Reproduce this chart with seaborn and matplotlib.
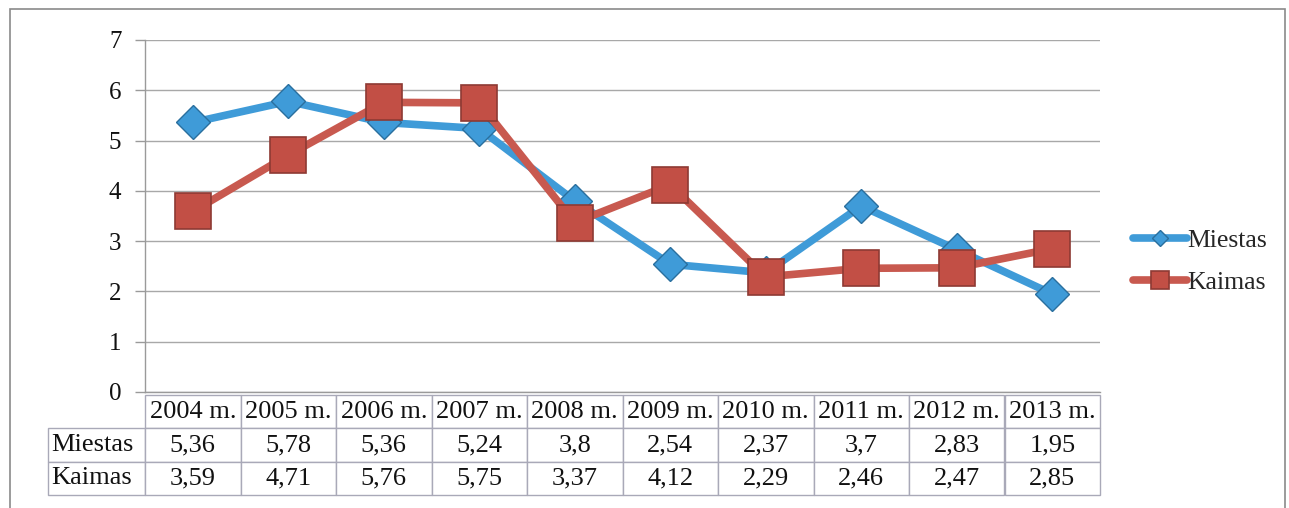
import matplotlib
matplotlib.use("Agg")
import matplotlib.pyplot as plt
import seaborn as sns
import pandas as pd
from matplotlib.patches import Rectangle

# ─── Data ─────────────────────────────────────────────
years = ["2004 m.", "2005 m.", "2006 m.", "2007 m.", "2008 m.",
         "2009 m.", "2010 m.", "2011 m.", "2012 m.", "2013 m."]
series_names = ["Miestas", "Kaimas"]
miestas = [5.36, 5.78, 5.36, 5.24, 3.8, 2.54, 2.37, 3.7, 2.83, 1.95]
kaimas = [3.59, 4.71, 5.76, 5.75, 3.37, 4.12, 2.29, 2.46, 2.47, 2.85]

BLUE = "#3f9bd8"
BLUE_EDGE = "#2a6f9e"
RED = "#c8594f"
RED_EDGE = "#8e3a33"

sns.set_theme(style="white")
plt.rcParams["font.family"] = ["Liberation Serif", "DejaVu Serif"]

df = pd.DataFrame({"x": range(len(years)), "Miestas": miestas, "Kaimas": kaimas})

fig = plt.figure(figsize=(12.89, 5.08), dpi=100)
W, H = 1289, 508
ax = fig.add_axes([145 / W, 1 - 392 / H, (1100 - 145) / W, (392 - 40) / H])

sns.lineplot(data=df, x="x", y="Miestas", ax=ax, color=BLUE, lw=5.5,
             marker="D", markersize=17, markerfacecolor=BLUE,
             markeredgecolor=BLUE_EDGE, markeredgewidth=1, label="Miestas")
sns.lineplot(data=df, x="x", y="Kaimas", ax=ax, color=RED, lw=5.5,
             marker="s", markersize=26, markerfacecolor="#c24f45",
             markeredgecolor=RED_EDGE, markeredgewidth=1.2, label="Kaimas")

ax.set_xlim(-0.5, len(years) - 0.5)
ax.set_ylim(0, 7)
ax.set_yticks(range(0, 8))
ax.set_xticks([])
ax.set_xlabel("")
ax.set_ylabel("")
ax.tick_params(axis="y", labelsize=18, left=True, length=7, color="#9a9a9a",
               width=1, pad=10, labelcolor="#111111")
ax.yaxis.grid(True, color="#a8a8a8", lw=1)
for side in ["top", "right"]:
    ax.spines[side].set_visible(False)
for side in ["left", "bottom"]:
    ax.spines[side].set_color("#9a9a9a")
    ax.spines[side].set_linewidth(1)

# data table below the axes (first column holds the series names)
def fmt(v):
    return f"{v:g}".replace(".", ",")

cell_text = [[series_names[0]] + [fmt(v) for v in miestas],
             [series_names[1]] + [fmt(v) for v in kaimas]]
label_w = 97 / 955
tbl = ax.table(cellText=cell_text, colLabels=[""] + years,
               colWidths=[label_w] + [0.1] * len(years), cellLoc="center",
               bbox=[-label_w, -(495 - 392) / 352, 1 + label_w, (495 - 395) / 352])
tbl.auto_set_font_size(False)
for (r, c), cell in tbl.get_celld().items():
    cell.set_edgecolor("#a9a9b8")
    cell.set_linewidth(1)
    cell.set_text_props(fontsize=19, color="#111111")
    cell.PAD = 0.03
    if r == 0 and c == 0:
        cell.visible_edges = ""
    if c == 0 and r > 0:
        cell.get_text().set_ha("left")
        cell._loc = "left"

leg = ax.legend(loc="center left", bbox_to_anchor=(1.035, 0.37), frameon=False,
                fontsize=18.5, handlelength=2.1, handletextpad=0.0, labelspacing=0.75,
                markerscale=0.5, borderaxespad=0, borderpad=0)

fig.patches.append(Rectangle((10 / W, -0.05), (1285 - 10) / W, 1.05 - 9 / H,
                             transform=fig.transFigure, fill=False,
                             edgecolor="#8a8a8a", lw=1.2))

fig.savefig("out.png", dpi=100, facecolor="white")
